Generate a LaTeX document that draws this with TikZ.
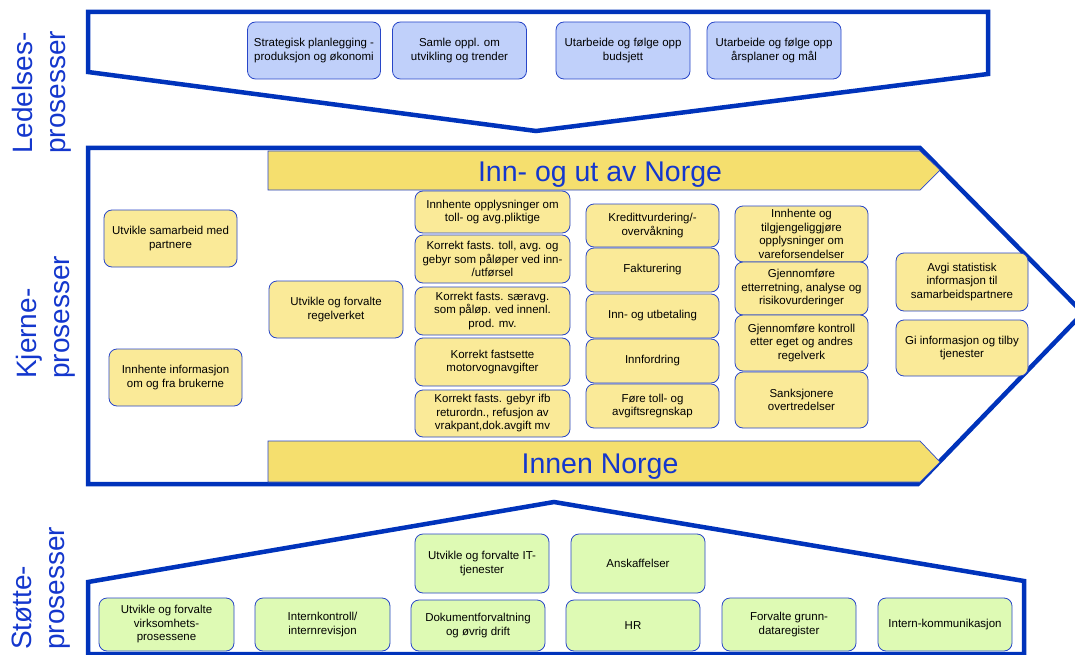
\documentclass[tikz,border=0pt]{standalone}
\usepackage{fontspec}
\setmainfont{Liberation Sans}
\definecolor{frameblue}{RGB}{0,51,187}
\definecolor{labelblue}{RGB}{20,55,205}
\definecolor{edgeblue}{RGB}{40,70,200}
\definecolor{bannerfill}{RGB}{245,223,110}
\definecolor{yellowfill}{RGB}{250,234,152}
\definecolor{bluefill}{RGB}{192,208,250}
\definecolor{greenfill}{RGB}{222,250,180}
\begin{document}
\begin{tikzpicture}[x=1pt,y=-1pt,
  frame/.style={draw=frameblue, line width=4.5pt, line join=miter, fill=white},
  banner/.style={draw=edgeblue, line width=0.7pt, fill=bannerfill},
  bannertext/.style={text=labelblue, font=\fontsize{28.5}{32}\selectfont, inner sep=0pt, anchor=base},
  sidelabel/.style={rotate=90, anchor=north west, align=left, inner sep=0pt,
    text=labelblue, font=\fontsize{28}{33}\selectfont},
  pbox/.style={draw=edgeblue, line width=0.8pt, rounded corners=8pt, align=center,
    inner sep=1pt, text=black, font=\fontsize{11.5}{13.5}\selectfont},
  ybox/.style={pbox, fill=yellowfill},
  bbox/.style={pbox, fill=bluefill},
  gbox/.style={pbox, fill=greenfill},
]
\useasboundingbox (0,0) rectangle (1075,655);

% side labels
\node[sidelabel] (lbl-led) at (12,154) {Ledelses-\\prosesser};
\node[sidelabel] (lbl-kje) at (16,379) {Kjerne-\\prosesser};
\node[sidelabel] (lbl-sto) at (12,650) {Støtte-\\prosesser};

% management frame
\draw[frame] (88,12) -- (988,12) -- (988,74) -- (536,131) -- (88,72) -- cycle;
% core frame
\draw[frame] (88,148) -- (920,148) -- (1083,313) -- (918,484) -- (88,484) -- cycle;
% support frame
\draw[frame] (88,582) -- (554,502) -- (1024,581) -- (1024,654) -- (88,654) -- cycle;

% banners
\draw[banner] (268,151) -- (920,151) -- (940,170) -- (920,190) -- (268,190) -- cycle;
\node[bannertext] (inn-ut) at (600,182) {Inn- og ut av Norge};
\draw[banner] (268,441) -- (920,441) -- (940,462) -- (920,482) -- (268,482) -- cycle;
\node[bannertext] (innen) at (600,473) {Innen Norge};

% management processes
\node[bbox, minimum width=133pt, minimum height=57pt] (t1) at (314,50.5) {Strategisk planlegging -\\produksjon og økonomi};
\node[bbox, minimum width=134pt, minimum height=57pt] (t2) at (459.5,50.5) {Samle oppl. om\\utvikling og trender};
\node[bbox, minimum width=134pt, minimum height=57pt] (t3) at (623,50.5) {Utarbeide og følge opp\\budsjett};
\node[bbox, minimum width=134pt, minimum height=57pt] (t4) at (774,50.5) {Utarbeide og følge opp\\årsplaner og mål};

% core processes, left part
\node[ybox, minimum width=133pt, minimum height=57pt] (y1) at (170.5,238.5) {Utvikle samarbeid med\\partnere};
\node[ybox, minimum width=133pt, minimum height=57pt] (y2) at (175.5,377.5) {Innhente informasjon\\om og fra brukerne};
\node[ybox, minimum width=134pt, minimum height=57pt] (y3) at (336,309.5) {Utvikle og forvalte\\regelverket};

% core processes, column 1
\node[ybox, minimum width=155pt, minimum height=42pt] (c1a) at (492.5,212) {Innhente opplysninger om\\toll- og avg.pliktige};
\node[ybox, minimum width=155pt, minimum height=48pt] (c1b) at (492.5,259) {Korrekt fasts. toll, avg. og\\gebyr som påløper ved inn-\\/utførsel};
\node[ybox, minimum width=155pt, minimum height=48pt] (c1c) at (492.5,311) {Korrekt fasts. særavg.\\som påløp. ved innenl.\\prod. mv.};
\node[ybox, minimum width=155pt, minimum height=48pt] (c1d) at (492.5,362) {Korrekt fastsette\\motorvognavgifter};
\node[ybox, minimum width=155pt, minimum height=47pt] (c1e) at (492.5,413.5) {Korrekt fasts. gebyr ifb\\returordn., refusjon av\\vrakpant,dok.avgift mv};

% core processes, column 2
\node[ybox, minimum width=133pt, minimum height=43pt] (c2a) at (652.5,225.5) {Kredittvurdering/-\\overvåkning};
\node[ybox, minimum width=133pt, minimum height=44pt] (c2b) at (652.5,270) {Fakturering};
\node[ybox, minimum width=133pt, minimum height=44pt] (c2c) at (652.5,316) {Inn- og utbetaling};
\node[ybox, minimum width=133pt, minimum height=44pt] (c2d) at (652.5,361) {Innfordring};
\node[ybox, minimum width=133pt, minimum height=44pt] (c2e) at (652.5,406) {Føre toll- og\\avgiftsregnskap};

% core processes, column 3
\node[ybox, minimum width=133pt, minimum height=56pt] (c3a) at (801.5,234) {Innhente og\\tilgjengeliggjøre\\opplysninger om\\vareforsendelser};
\node[ybox, minimum width=133pt, minimum height=53pt] (c3b) at (801.5,288.5) {Gjennomføre\\etterretning, analyse og\\risikovurderinger};
\node[ybox, minimum width=133pt, minimum height=56pt] (c3c) at (801.5,343) {Gjennomføre kontroll\\etter eget og andres\\regelverk};
\node[ybox, minimum width=133pt, minimum height=56pt] (c3d) at (801.5,400) {Sanksjonere\\overtredelser};

% core processes, right part
\node[ybox, minimum width=132pt, minimum height=58pt] (r1) at (962,282) {Avgi statistisk\\informasjon til\\samarbeidspartnere};
\node[ybox, minimum width=132pt, minimum height=56pt] (r2) at (962,348) {Gi informasjon og tilby\\tjenester};

% support processes
\node[gbox, minimum width=134pt, minimum height=59pt] (g3) at (482,563.5) {Utvikle og forvalte IT-\\tjenester};
\node[gbox, minimum width=134pt, minimum height=59pt] (g5) at (638,563.5) {Anskaffelser};
\node[gbox, minimum width=135pt, minimum height=53pt] (g1) at (166.5,624.5) {Utvikle og forvalte\\virksomhets-\\prosessene};
\node[gbox, minimum width=135pt, minimum height=53pt] (g2) at (322.5,624.5) {Internkontroll/\\internrevisjon};
\node[gbox, minimum width=134pt, minimum height=51pt] (g4) at (478,625.5) {Dokumentforvaltning\\og øvrig drift};
\node[gbox, minimum width=134pt, minimum height=51pt] (g6) at (633,625.5) {HR};
\node[gbox, minimum width=134pt, minimum height=53pt] (g7) at (789,624.5) {Forvalte grunn-\\dataregister};
\node[gbox, minimum width=134pt, minimum height=53pt] (g8) at (945,624.5) {Intern-kommunikasjon};
\end{tikzpicture}
\end{document}
